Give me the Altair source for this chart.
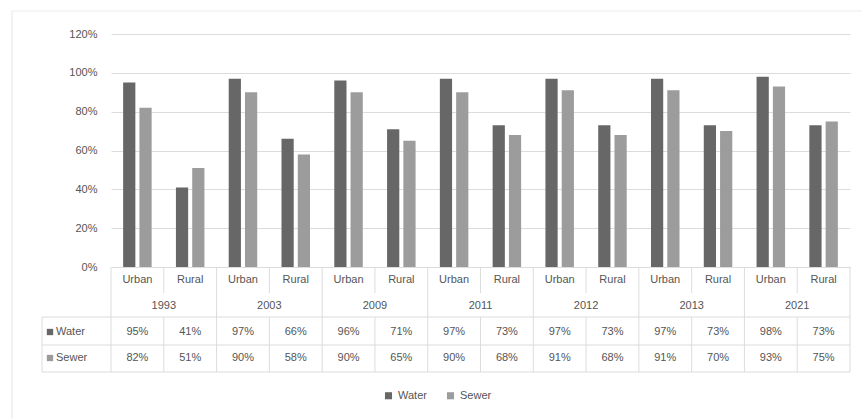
import altair as alt
import pandas as pd

# Access to piped water and sewerage by year and area
years = ["1993", "2003", "2009", "2011", "2012", "2013", "2021"]
areas = ["Urban", "Rural"]
water = [95, 41, 97, 66, 96, 71, 97, 73, 97, 73, 97, 73, 98, 73]
sewer = [82, 51, 90, 58, 90, 65, 90, 68, 91, 68, 91, 70, 93, 75]
series = ["Water", "Sewer"]
colors = ["#676767", "#9c9c9c"]
y_ticks = [0, 20, 40, 60, 80, 100, 120]

W, H = 739, 233
FONT = "Liberation Sans"
TXT = "#555555"
LINE = "#dcdcdc"

rows = []
for i in range(len(water)):
    year = years[i // 2]
    area = areas[i % 2]
    slot = f"{year} {area}"
    rows.append({"idx": i, "slot": slot, "year": year, "area": area, "series": "Water", "value": water[i]})
    rows.append({"idx": i, "slot": slot, "year": year, "area": area, "series": "Sewer", "value": sewer[i]})
df = pd.DataFrame(rows)
slots = list(dict.fromkeys(df["slot"]))

cats = pd.DataFrame({"idx": list(range(len(water))),
                     "area": [areas[i % 2] for i in range(len(water))],
                     "water": water, "sewer": sewer})
yrs = pd.DataFrame({"j": list(range(len(years))), "year": years})
bounds = pd.DataFrame({"k": list(range(len(water) + 1))})

color_scale = alt.Scale(domain=series, range=colors)
tbl_x = alt.Scale(domain=[0, len(water)], range=[0, W], nice=False, zero=False)

bars = alt.Chart(df).mark_bar().encode(
    x=alt.X("slot:N", sort=slots, axis=None,
            scale=alt.Scale(paddingInner=0.46, paddingOuter=0.23)),
    xOffset=alt.XOffset("series:N", sort=series, scale=alt.Scale(paddingInner=0.25)),
    y=alt.Y("value:Q", scale=alt.Scale(domain=[0, 120], nice=False),
            axis=alt.Axis(values=y_ticks, labelExpr="datum.value + '%'", title=None,
                          domain=False, ticks=False, grid=True, gridColor=LINE,
                          labelColor=TXT, labelFont=FONT, labelFontSize=11, labelPadding=14)),
    color=alt.Color("series:N", scale=color_scale, sort=series,
                    legend=alt.Legend(title=None, orient="none", direction="horizontal",
                                      legendX=272, legendY=356, symbolType="square",
                                      symbolSize=50, symbolStrokeWidth=0,
                                      labelFont=FONT, labelFontSize=11, labelColor=TXT,
                                      columnPadding=18)),
)

# data table under the plot
area_txt = alt.Chart(cats).transform_calculate(pos="datum.idx + 0.5").mark_text(
    font=FONT, fontSize=11, color=TXT
).encode(x=alt.X("pos:Q", scale=tbl_x, axis=None), y=alt.value(246), text="area:N")

year_txt = alt.Chart(yrs).transform_calculate(pos="2 * datum.j + 1").mark_text(
    font=FONT, fontSize=11, color=TXT
).encode(x=alt.X("pos:Q", scale=tbl_x, axis=None), y=alt.value(272), text="year:N")

water_txt = alt.Chart(cats).transform_calculate(
    pos="datum.idx + 0.5", lab="datum.water + '%'"
).mark_text(font=FONT, fontSize=11, color=TXT).encode(
    x=alt.X("pos:Q", scale=tbl_x, axis=None), y=alt.value(298), text="lab:N")

sewer_txt = alt.Chart(cats).transform_calculate(
    pos="datum.idx + 0.5", lab="datum.sewer + '%'"
).mark_text(font=FONT, fontSize=11, color=TXT).encode(
    x=alt.X("pos:Q", scale=tbl_x, axis=None), y=alt.value(324), text="lab:N")

full_rules = alt.Chart(bounds).transform_filter("datum.k % 2 == 0").mark_rule(
    color=LINE, strokeWidth=1
).encode(x=alt.X("k:Q", scale=tbl_x, axis=None), y=alt.value(H), y2=alt.value(338))

mid_top = alt.Chart(bounds).transform_filter("datum.k % 2 == 1").mark_rule(
    color=LINE, strokeWidth=1
).encode(x=alt.X("k:Q", scale=tbl_x, axis=None), y=alt.value(H), y2=alt.value(259))

mid_bot = alt.Chart(bounds).transform_filter("datum.k % 2 == 1").mark_rule(
    color=LINE, strokeWidth=1
).encode(x=alt.X("k:Q", scale=tbl_x, axis=None), y=alt.value(283), y2=alt.value(338))

hlines = [
    alt.Chart(bounds).transform_filter("datum.k == 0").mark_rule(color=LINE, strokeWidth=1).encode(
        x=alt.value(-69), x2=alt.value(W), y=alt.value(yy))
    for yy in (283, 311, 338)
]
key_edge = alt.Chart(bounds).transform_filter("datum.k == 0").mark_rule(color=LINE, strokeWidth=1).encode(
    x=alt.value(-69), y=alt.value(283), y2=alt.value(338))

keys = pd.DataFrame({"series": series, "row": [0, 1]})
key_sq = alt.Chart(keys).mark_square(size=40, opacity=1).encode(
    x=alt.value(-61),
    y=alt.Y("row:Q", scale=alt.Scale(domain=[0, 1], range=[298, 324]), axis=None),
    color=alt.Color("series:N", scale=color_scale, sort=series, legend=None),
)
key_txt = alt.Chart(keys).mark_text(align="left", font=FONT, fontSize=11, color=TXT).encode(
    x=alt.value(-55),
    y=alt.Y("row:Q", scale=alt.Scale(domain=[0, 1], range=[298, 324]), axis=None),
    text="series:N",
)

# faint outer frame of the chart area
frame_l = alt.Chart(bounds).transform_filter("datum.k == 0").mark_rule(color="#e6e6e6").encode(
    x=alt.value(-99), y=alt.value(-23), y2=alt.value(390))
frame_t = alt.Chart(bounds).transform_filter("datum.k == 0").mark_rule(color="#ececec").encode(
    x=alt.value(-99), x2=alt.value(W + 12), y=alt.value(-23))

chart = alt.layer(
    bars, area_txt, year_txt, water_txt, sewer_txt,
    full_rules, mid_top, mid_bot, *hlines, key_edge, key_sq, key_txt, frame_l, frame_t
).resolve_scale(x="independent", y="independent").properties(
    width=W, height=H,
    autosize=alt.AutoSizeParams(type="none"),
    padding={"left": 111, "top": 34, "right": 14, "bottom": 152},
).configure(
    background="white",
    view=alt.ViewConfig(stroke="transparent", strokeWidth=0),
)

chart.save("out.html", embed_options={"renderer": "svg", "actions": False})
